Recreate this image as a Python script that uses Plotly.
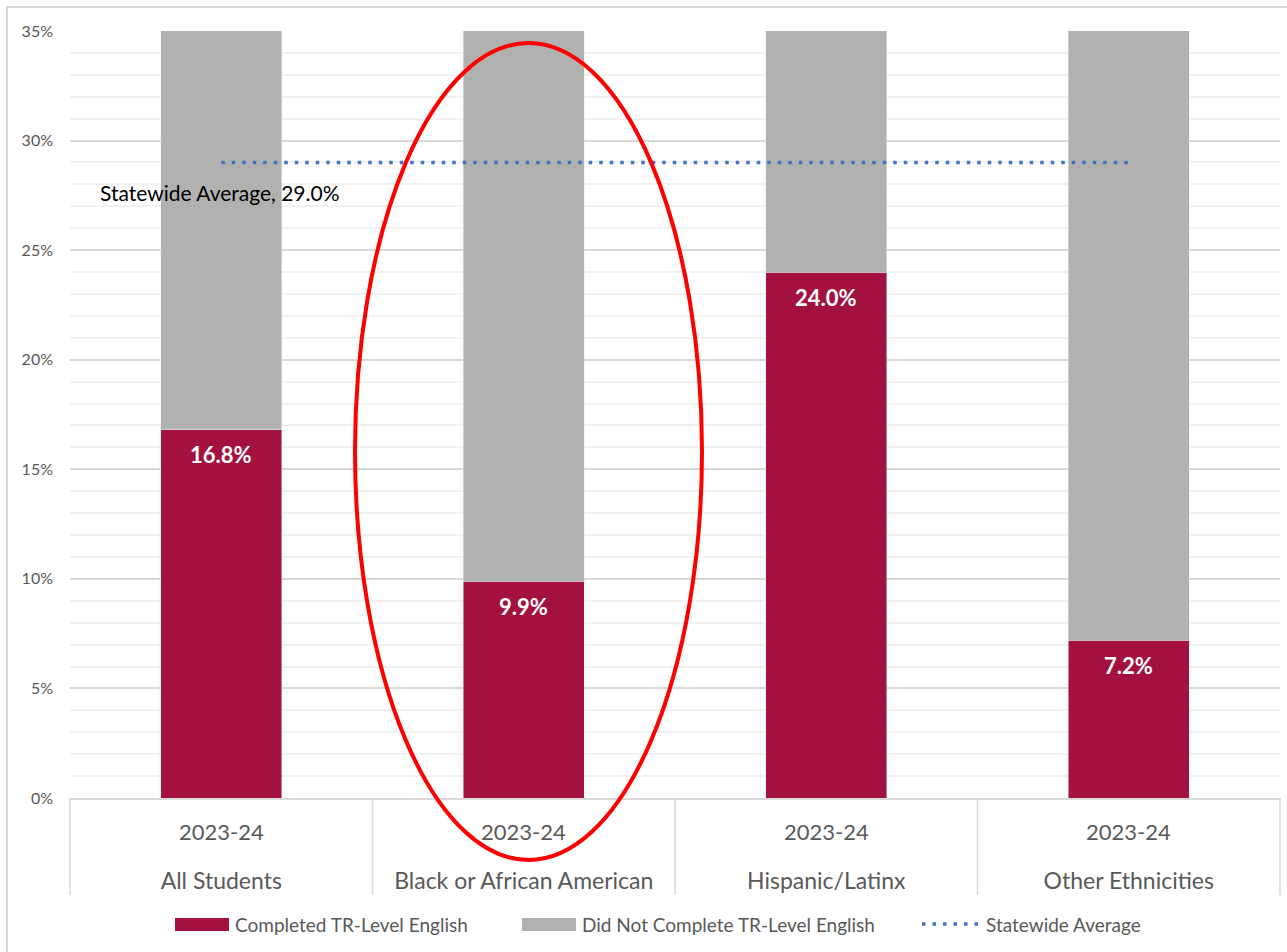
import plotly.graph_objects as go

groups = ["All Students", "Black or African American", "Hispanic/Latinx", "Other Ethnicities"]
years = ["2023-24", "2023-24", "2023-24", "2023-24"]
completed = [16.8, 9.9, 24.0, 7.2]
not_completed = [83.2, 90.1, 76.0, 92.8]
statewide_avg = 29.0
avg_values = [statewide_avg] * len(groups)
legend_names = ["Completed TR-Level English", "Did Not Complete TR-Level English", "Statewide Average"]

MAROON = "#A3123F"
GRAY = "#B1B2B0"
BLUE = "#4472C4"
TXT = "#595959"
GRID = "#D9D9D9"
FONT = "Lato"

# layout geometry (pixels)
W, H = 1287, 952
L, R, T, B = 70, 7, 31, 154
PW, PH = W - L - R, H - T - B


def px(xp):
    return (xp - L) / PW


def py(yp):
    return (T + PH - yp) / PH


fig = go.Figure()
fig.add_trace(go.Bar(
    x=groups, y=completed, name=legend_names[0],
    marker_color=MAROON, showlegend=False,
))
fig.add_trace(go.Bar(
    x=groups, y=not_completed, name=legend_names[1],
    marker_color=GRAY, hoverinfo="skip", showlegend=False,
))
fig.add_trace(go.Scatter(
    x=groups, y=avg_values, name=legend_names[2], mode="lines",
    line=dict(color=BLUE, width=3.5, dash="3.5px,7px"), showlegend=False,
))

# data labels inside maroon bars
for g, v in zip(groups, completed):
    fig.add_annotation(x=g, y=v, xref="x", yref="y", yshift=-25,
                       yanchor="middle", showarrow=False, text=f"<b>{v:.1f}%</b>",
                       font=dict(family=FONT, size=22, color="white"))

# year labels (inner category level)
for g, yr in zip(groups, years):
    fig.add_annotation(x=g, xref="x", yref="paper", y=py(832), yanchor="middle",
                       showarrow=False, text=yr,
                       font=dict(family=FONT, size=22, color=TXT))

# category dividers
n = len(groups)
for i in range(n + 1):
    fig.add_shape(type="line", xref="paper", yref="paper",
                  x0=i / n, x1=i / n, y0=0, y1=py(895),
                  line=dict(color=GRID, width=1.5))

fig.add_annotation(
    xref="paper", yref="y", x=px(98), y=statewide_avg, yshift=-30,
    xanchor="left", yanchor="middle", showarrow=False,
    text=f"Statewide Average, {statewide_avg:.1f}%",
    font=dict(family=FONT, size=21, color="#000000"),
)

# red ellipse highlight
fig.add_shape(type="circle", xref="paper", yref="paper",
              x0=px(355), x1=px(702), y0=py(860), y1=py(43),
              line=dict(color="#FF0000", width=4), layer="above")
# outer chart border
fig.add_shape(type="rect", xref="paper", yref="paper",
              x0=px(7), x1=px(1300), y0=py(970), y1=py(7),
              line=dict(color=GRID, width=2), layer="below")

# legend (manual, wide swatches like the original)
ly = py(924)
fig.add_shape(type="rect", xref="paper", yref="paper", x0=px(175), x1=px(229),
              y0=py(931), y1=py(918), fillcolor=MAROON, line=dict(width=0))
fig.add_shape(type="rect", xref="paper", yref="paper", x0=px(522), x1=px(576),
              y0=py(931), y1=py(918), fillcolor=GRAY, line=dict(width=0))
fig.add_shape(type="line", xref="paper", yref="paper", x0=px(922), x1=px(980),
              y0=ly, y1=ly, line=dict(color=BLUE, width=3.5, dash="3.5px,7px"))
for xs, name in zip([233, 580, 984], legend_names):
    fig.add_annotation(xref="paper", yref="paper", x=px(xs), y=ly,
                       xanchor="left", yanchor="middle", showarrow=False,
                       text=name, font=dict(family=FONT, size=19, color=TXT))

fig.update_layout(
    width=W, height=H,
    margin=dict(l=L, r=R, t=T, b=B),
    barmode="stack", bargap=0.6,
    plot_bgcolor="white", paper_bgcolor="white",
    font=dict(family=FONT, color=TXT),
    showlegend=False,
)
fig.update_yaxes(
    range=[0, 35], dtick=5, ticksuffix="%", tickfont=dict(size=16, color=TXT),
    showgrid=True, gridcolor=GRID, gridwidth=1.5,
    minor=dict(dtick=1, showgrid=True, gridcolor="#F2F2F2", gridwidth=1.5),
    zeroline=False, showline=False, ticklabelstandoff=16,
)
fig.update_xaxes(
    type="category", tickfont=dict(size=23, color=TXT),
    showline=True, linecolor=GRID, linewidth=1.5,
    showgrid=False, ticks="", ticklabelstandoff=62,
)

fig.write_html("out.html", config={"displayModeBar": False},
               post_script="document.body.style.margin='0px';")
